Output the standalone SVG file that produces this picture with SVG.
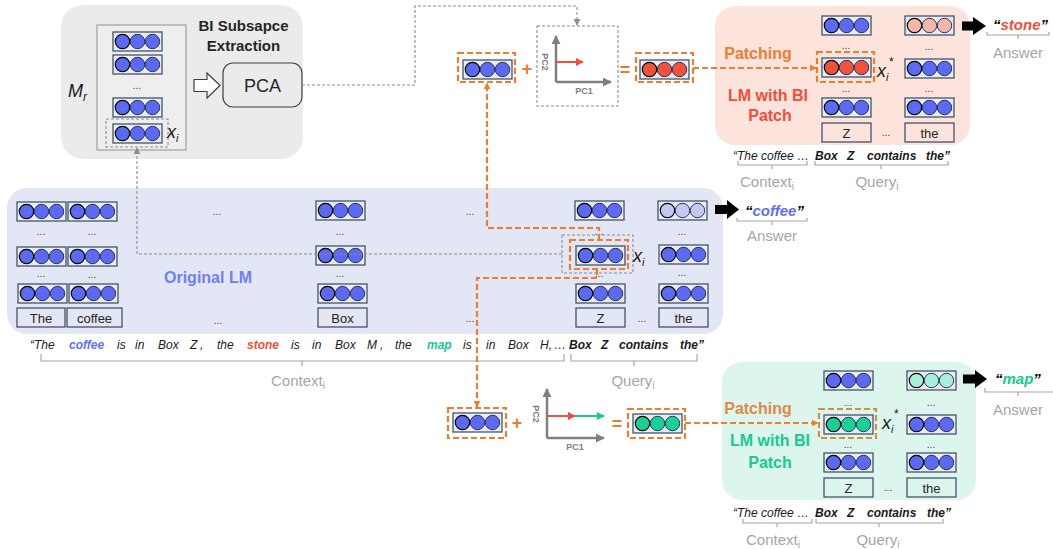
<svg xmlns="http://www.w3.org/2000/svg" xmlns:xlink="http://www.w3.org/1999/xlink" width="1053" height="549" viewBox="0 0 1053 549">
<defs>
<style>
text{font-family:"Liberation Sans",Arial,sans-serif}
.tok{font-size:13px;fill:#262626;text-anchor:middle}
.tbox{fill:none;stroke:#44546a;stroke-width:1.3}
.dots{font-size:10px;fill:#404040;text-anchor:middle}
.odash{fill:none;stroke:#ed7d31;stroke-width:2.2;stroke-dasharray:6 3}
.gdash{fill:none;stroke:#8c8c8c;stroke-width:1.1;stroke-dasharray:3 2}
.gray{fill:#a6a6a6;font-size:15px;text-anchor:middle}
.brk{fill:none;stroke:#a6a6a6;stroke-width:1.2}
.sent{font-size:12px;font-style:italic;fill:#1a1a1a}
.b{font-weight:bold}
.ax{stroke:#7f7f7f;stroke-width:2.5;fill:none}
.pcl{font-size:9px;font-weight:bold;fill:#7f7f7f;text-anchor:middle}
.op{font-size:18px;font-weight:bold;fill:#ed7d31;text-anchor:middle}
.xi{font-size:18px;font-style:italic;fill:#1a1a1a}
.ans{font-size:15px;font-weight:bold;font-style:italic}
.blk{fill:#000}
.cb{fill:#5f6ff5}
.cr{fill:#f04f3a}
.cg{fill:#17c98f}
</style>
<marker id="mo" viewBox="0 0 10 10" refX="9" refY="5" markerWidth="7" markerHeight="7" markerUnits="userSpaceOnUse" orient="auto"><path d="M0,0 L10,5 L0,10 z" fill="#ed7d31"/></marker>
<marker id="mg" viewBox="0 0 10 10" refX="9" refY="5" markerWidth="7" markerHeight="7" markerUnits="userSpaceOnUse" orient="auto"><path d="M0,0 L10,5 L0,10 z" fill="#8c8c8c"/></marker>
<marker id="ma" viewBox="0 0 10 10" refX="9" refY="5" markerWidth="9" markerHeight="9" markerUnits="userSpaceOnUse" orient="auto"><path d="M0,0 L10,5 L0,10 z" fill="#7f7f7f"/></marker>
<marker id="mr" viewBox="0 0 10 10" refX="9" refY="5" markerWidth="8" markerHeight="8" markerUnits="userSpaceOnUse" orient="auto"><path d="M0,0 L10,5 L0,10 z" fill="#f04f3a"/></marker>
<marker id="mgr" viewBox="0 0 10 10" refX="9" refY="5" markerWidth="8" markerHeight="8" markerUnits="userSpaceOnUse" orient="auto"><path d="M0,0 L10,5 L0,10 z" fill="#17c98f"/></marker>
<g id="vec"><rect x="0" y="0" width="49" height="19" fill="#e9ecf6" stroke="#44546a" stroke-width="1.3"/><circle cx="9.5" cy="9.5" r="7.2" stroke="#000" stroke-width="1.2"/><circle cx="24.5" cy="9.5" r="7.2" stroke="#1c2450" stroke-width="0.9"/><circle cx="39.5" cy="9.5" r="7.2" stroke="#1c2450" stroke-width="0.9"/></g>
</defs>
<rect width="1053" height="549" fill="#ffffff"/>

<!-- BI subspace extraction -->
<g id="bi-panel">
<rect x="61" y="5" width="242" height="154" rx="22" fill="#ebebeb"/>
<rect x="97" y="25" width="89" height="125" fill="#eeeeee" stroke="#a0a0a0" stroke-width="1.2"/>
<use href="#vec" x="113" y="32" fill="#5b6af0"/>
<use href="#vec" x="113" y="55" fill="#5b6af0"/>
<text class="dots" x="137" y="89">...</text>
<use href="#vec" x="113" y="98" fill="#5b6af0"/>
<use href="#vec" x="113" y="124" fill="#5b6af0"/>
<rect x="106" y="119" width="62" height="28" class="gdash"/>
<text class="xi" x="167" y="138">x<tspan font-size="11" dy="4">i</tspan></text>
<text class="xi" x="68" y="97" font-size="20">M<tspan font-size="12" dy="4">r</tspan></text>
<text x="243.5" y="31" font-size="15" font-weight="bold" fill="#262626" text-anchor="middle">BI Subsapce</text>
<text x="243.5" y="51" font-size="15" font-weight="bold" fill="#262626" text-anchor="middle">Extraction</text>
<polygon points="194,79.5 207,79.5 207,73 220,85.5 207,98 207,91.5 194,91.5" fill="#ffffff" stroke="#404040" stroke-width="1.2"/>
</g>
<g id="pca">
<rect x="223" y="63" width="79" height="44" rx="10" fill="#ebebeb" stroke="#404040" stroke-width="1.2"/>
<text x="262.5" y="92" font-size="18" fill="#262626" text-anchor="middle">PCA</text>
</g>

<!-- top patch computation -->
<g id="top-vec">
<use href="#vec" x="463" y="60" fill="#5b6af0"/>
<rect x="458" y="53" width="57" height="29" class="odash"/>
</g>
<text class="op" x="527" y="75">+</text>
<g id="top-pc">
<rect x="537" y="26" width="81" height="80" class="gdash"/>
<path d="M556,82 V36" class="ax" marker-end="url(#ma)"/>
<path d="M556,82 H611" class="ax" marker-end="url(#ma)"/>
<path d="M556,62 H583" stroke="#f04f3a" stroke-width="2" fill="none" marker-end="url(#mr)"/>
<text class="pcl" transform="translate(542,62) rotate(90)">PC2</text>
<text class="pcl" x="584" y="94">PC1</text>
</g>
<text class="op" x="625" y="76">=</text>
<g id="top-red-vec">
<use href="#vec" x="640" y="60" fill="#f0533c"/>
<rect x="636" y="53" width="57" height="29" class="odash"/>
</g>

<!-- top right patched LM -->
<g id="patched-top">
<rect x="715" y="6" width="255" height="139" rx="20" fill="#fce3db"/>
<text x="758" y="59" font-size="16" font-weight="bold" fill="#ed7d31" text-anchor="middle">Patching</text>
<text x="768" y="101" font-size="16" font-weight="bold" fill="#f04f3a" text-anchor="middle">LM with BI</text>
<text x="770" y="121" font-size="16" font-weight="bold" fill="#f04f3a" text-anchor="middle">Patch</text>
<use href="#vec" x="822" y="16" fill="#5b6af0"/>
<use href="#vec" x="905" y="16" fill="#f5b7a9"/>
<text class="dots" x="846" y="49">...</text>
<text class="dots" x="929" y="50">...</text>
<use href="#vec" x="822" y="58" fill="#f0533c"/>
<rect x="817" y="52" width="57" height="30" class="odash"/>
<text class="xi" x="877" y="77">x<tspan font-size="11" dy="4">i</tspan><tspan font-size="12" dy="-15">*</tspan></text>
<use href="#vec" x="905" y="59" fill="#5b6af0"/>
<text class="dots" x="846" y="92">...</text>
<text class="dots" x="929" y="92">...</text>
<use href="#vec" x="822" y="98" fill="#5b6af0"/>
<use href="#vec" x="905" y="98" fill="#5b6af0"/>
<rect x="822" y="123" width="49" height="19" class="tbox"/>
<text class="tok" x="846.5" y="137.5">Z</text>
<text class="dots" x="886" y="136">...</text>
<rect x="905" y="123" width="49" height="19" class="tbox"/>
<text class="tok" x="929.5" y="137.5">the</text>
</g>
<g id="answer-stone">
<polygon points="962,21.5 973,21.5 973,17 986,26 973,35 973,30.5 962,30.5" class="blk"/>
<text class="ans" x="993" y="30"><tspan fill="#000">“</tspan><tspan class="cr">stone</tspan><tspan fill="#000">”</tspan></text>
<path class="brk" d="M987,32 V35 H1049 V32 M1018,35 V39"/>
<text class="gray" x="1018" y="58">Answer</text>
</g>
<g id="query-top">
<text class="sent" x="733" y="160">“The coffee  …</text>
<text class="sent b" x="815" y="160">Box</text>
<text class="sent b" x="847" y="160">Z</text>
<text class="sent b" x="867" y="160">contains</text>
<text class="sent b" x="926" y="160">the”</text>
<path class="brk" d="M738,161 V165 H807 V161 M772,165 V169"/>
<path class="brk" d="M815,161 V165 H948 V161 M881,165 V169"/>
<text class="gray" x="767" y="187">Context<tspan font-size="10" dy="3">i</tspan></text>
<text class="gray" x="877" y="187">Query<tspan font-size="10" dy="3">i</tspan></text>
</g>

<!-- Original LM -->
<g id="original-lm">
<rect x="7" y="188" width="716" height="146" rx="20" fill="#e2e6f5"/>
<text x="208" y="283" font-size="16" font-weight="bold" fill="#6f7ff7" text-anchor="middle">Original LM</text>
<use href="#vec" x="17" y="202" fill="#5b6af0"/>
<use href="#vec" x="68" y="202" fill="#5b6af0"/>
<text class="dots" x="41" y="235">...</text>
<text class="dots" x="92" y="235">...</text>
<use href="#vec" x="17" y="247" fill="#5b6af0"/>
<use href="#vec" x="68" y="247" fill="#5b6af0"/>
<text class="dots" x="41" y="277">...</text>
<text class="dots" x="92" y="278">...</text>
<use href="#vec" x="18" y="284" fill="#5b6af0"/>
<use href="#vec" x="69" y="284" fill="#5b6af0"/>
<rect x="17" y="308" width="48" height="19" class="tbox"/>
<text class="tok" x="41" y="322.5">The</text>
<rect x="67" y="308" width="55" height="19" class="tbox"/>
<text class="tok" x="94.5" y="322.5">coffee</text>
<text class="dots" x="217" y="215">...</text>
<text class="dots" x="218" y="324">...</text>
<use href="#vec" x="316" y="201" fill="#5b6af0"/>
<text class="dots" x="340" y="235">...</text>
<use href="#vec" x="316" y="246" fill="#5b6af0"/>
<text class="dots" x="340" y="277">...</text>
<use href="#vec" x="318" y="284" fill="#5b6af0"/>
<rect x="318" y="308" width="49" height="19" class="tbox"/>
<text class="tok" x="342.5" y="322.5">Box</text>
<text class="dots" x="470" y="215">...</text>
<text class="dots" x="470" y="322">...</text>
<use href="#vec" x="575" y="201" fill="#5b6af0"/>
<text class="dots" x="599" y="235">...</text>
<use href="#vec" x="576" y="246" fill="#5b6af0"/>
<rect x="570" y="240" width="58" height="29" class="odash"/>
<rect x="562" y="235" width="71" height="38" class="gdash"/>
<text class="xi" x="633" y="262">x<tspan font-size="11" dy="4">i</tspan></text>
<text class="dots" x="599" y="277">...</text>
<use href="#vec" x="576" y="284" fill="#5b6af0"/>
<rect x="576" y="308" width="49" height="19" class="tbox"/>
<text class="tok" x="600.5" y="322.5">Z</text>
<text class="dots" x="642" y="322">...</text>
<use href="#vec" x="658" y="201" fill="#c3c9f3"/>
<text class="dots" x="682" y="235">...</text>
<use href="#vec" x="659" y="245" fill="#5b6af0"/>
<text class="dots" x="682" y="276">...</text>
<use href="#vec" x="659" y="284" fill="#5b6af0"/>
<rect x="659" y="308" width="49" height="19" class="tbox"/>
<text class="tok" x="683.5" y="322.5">the</text>
</g>
<g id="answer-coffee">
<polygon points="715,205 727,205 727,200 739,209.5 727,219 727,214 715,214" class="blk"/>
<text class="ans" x="745" y="216"><tspan fill="#000">“</tspan><tspan class="cb">coffee</tspan><tspan fill="#000">”</tspan></text>
<path class="brk" d="M737,218 V221 H807 V218 M772,221 V225"/>
<text class="gray" x="772" y="241">Answer</text>
</g>
<g id="sentence">
<text class="sent" x="30" y="349">“The</text>
<text class="sent b cb" x="69" y="349">coffee</text>
<text class="sent" x="117" y="349">is</text>
<text class="sent" x="135" y="349">in</text>
<text class="sent" x="158" y="349">Box</text>
<text class="sent" x="190" y="349">Z</text>
<text class="sent" x="200" y="349">,</text>
<text class="sent" x="217" y="349">the</text>
<text class="sent b cr" x="247" y="349">stone</text>
<text class="sent" x="291" y="349">is</text>
<text class="sent" x="312" y="349">in</text>
<text class="sent" x="335" y="349">Box</text>
<text class="sent" x="367" y="349">M</text>
<text class="sent" x="380" y="349">,</text>
<text class="sent" x="395" y="349">the</text>
<text class="sent b cg" x="427" y="349">map</text>
<text class="sent" x="463" y="349">is</text>
<text class="sent" x="486" y="349">in</text>
<text class="sent" x="508" y="349">Box</text>
<text class="sent" x="540" y="349">H,</text>
<text class="sent" x="554" y="349">…</text>
<text class="sent b" x="569" y="349">Box</text>
<text class="sent b" x="601" y="349">Z</text>
<text class="sent b" x="619" y="349">contains</text>
<text class="sent b" x="680" y="349">the”</text>
<path class="brk" d="M41,354 V361 H564 V354 M302,361 V366"/>
<path class="brk" d="M571,354 V361 H697 V354 M634,361 V366"/>
<text class="gray" x="298" y="386">Context<tspan font-size="10" dy="3">i</tspan></text>
<text class="gray" x="633" y="386">Query<tspan font-size="10" dy="3">i</tspan></text>
</g>

<!-- bottom patch computation -->
<g id="bottom-vec">
<use href="#vec" x="453" y="413" fill="#5b6af0"/>
<rect x="448" y="408" width="58" height="30" class="odash"/>
</g>
<text class="op" x="517" y="429">+</text>
<g id="bottom-pc">
<path d="M547,438 V389" class="ax" marker-end="url(#ma)"/>
<path d="M547,438 H604" class="ax" marker-end="url(#ma)"/>
<path d="M547,416 H575" stroke="#f04f3a" stroke-width="2" fill="none" marker-end="url(#mr)"/>
<path d="M575,416 H604" stroke="#17c98f" stroke-width="2" fill="none" marker-end="url(#mgr)"/>
<text class="pcl" transform="translate(533,414) rotate(90)">PC2</text>
<text class="pcl" x="575" y="450">PC1</text>
</g>
<text class="op" x="617" y="430">=</text>
<g id="bottom-green-vec">
<use href="#vec" x="633" y="414" fill="#1ccf94"/>
<rect x="628" y="409" width="57" height="29" class="odash"/>
</g>

<!-- bottom right patched LM -->
<g id="patched-bottom">
<rect x="722" y="362" width="254" height="138" rx="20" fill="#dcf6ee"/>
<text x="758" y="414" font-size="16" font-weight="bold" fill="#dd8a48" text-anchor="middle">Patching</text>
<text x="770" y="446" font-size="16" font-weight="bold" fill="#17c98f" text-anchor="middle">LM with BI</text>
<text x="770" y="468" font-size="16" font-weight="bold" fill="#17c98f" text-anchor="middle">Patch</text>
<use href="#vec" x="824" y="371" fill="#5b6af0"/>
<use href="#vec" x="907" y="371" fill="#a9eed6"/>
<text class="dots" x="848" y="406">...</text>
<text class="dots" x="931" y="406">...</text>
<use href="#vec" x="824" y="415" fill="#1ccf94"/>
<rect x="819" y="409" width="57" height="29" class="odash" style="stroke:#d98b4a"/>
<text class="xi" x="882" y="429">x<tspan font-size="11" dy="4">i</tspan><tspan font-size="12" dy="-15">*</tspan></text>
<use href="#vec" x="907" y="415" fill="#5b6af0"/>
<text class="dots" x="848" y="448">...</text>
<text class="dots" x="931" y="448">...</text>
<use href="#vec" x="824" y="453" fill="#5b6af0"/>
<use href="#vec" x="907" y="453" fill="#5b6af0"/>
<rect x="824" y="478" width="49" height="19" class="tbox"/>
<text class="tok" x="848.5" y="492.5">Z</text>
<text class="dots" x="888" y="491">...</text>
<rect x="907" y="478" width="49" height="19" class="tbox"/>
<text class="tok" x="931.5" y="492.5">the</text>
</g>
<g id="answer-map">
<polygon points="963,374.5 975,374.5 975,370 987,379 975,388 975,383.5 963,383.5" class="blk"/>
<text class="ans" x="995" y="384"><tspan fill="#000">“</tspan><tspan class="cg">map</tspan><tspan fill="#000">”</tspan></text>
<path class="brk" d="M985,388 V392 H1053 M1018,392 V396"/>
<text class="gray" x="1018" y="415">Answer</text>
</g>
<g id="query-bottom">
<text class="sent" x="733" y="517">“The coffee  …</text>
<text class="sent b" x="815" y="517">Box</text>
<text class="sent b" x="847" y="517">Z</text>
<text class="sent b" x="867" y="517">contains</text>
<text class="sent b" x="927" y="517">the”</text>
<path class="brk" d="M743,519 V523 H812 V519 M777,523 V527"/>
<path class="brk" d="M816,519 V523 H943 V519 M879,523 V527"/>
<text class="gray" x="773" y="545">Context<tspan font-size="10" dy="3">i</tspan></text>
<text class="gray" x="878" y="545">Query<tspan font-size="10" dy="3">i</tspan></text>
</g>

<!-- connectors -->
<g id="connectors">
<path class="gdash" d="M302,85 H415 V6 H577 V25" marker-end="url(#mg)"/>
<path class="gdash" d="M562,254 H137 V148" marker-end="url(#mg)"/>
<path class="odash" d="M693,68 H816" marker-end="url(#mo)"/>
<path class="odash" d="M599,240 V228 H487 V83" marker-end="url(#mo)"/>
<path class="odash" d="M597,269 V278 H477 V407" marker-end="url(#mo)"/>
<path class="odash" d="M685,423 H818" marker-end="url(#mo)"/>
</g>
</svg>
